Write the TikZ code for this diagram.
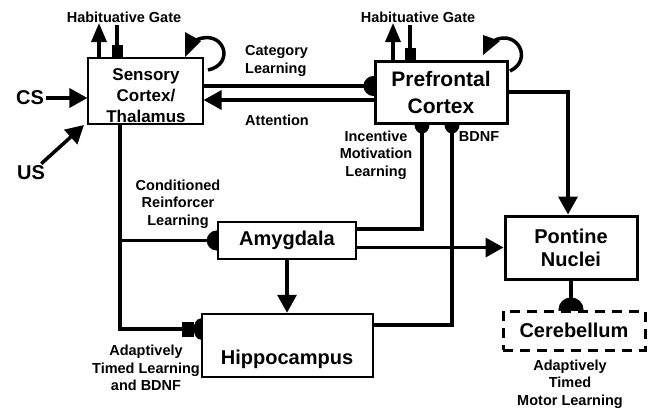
\documentclass[tikz,border=0pt]{standalone}
\usepackage{fontspec}
\setmainfont{Liberation Sans}
\usetikzlibrary{arrows.meta,positioning,calc,backgrounds}

\begin{document}
\begin{tikzpicture}[x=1pt,y=-1pt,
    box/.style={draw, fill=white, line width=2.5pt, inner sep=0pt, align=center,
        font=\fontsize{20}{23}\selectfont\bfseries},
    lbl/.style={align=center, inner sep=0pt, font=\fontsize{14.5}{17.5}\selectfont\bfseries},
    conn/.style={line width=3.5pt},
    arr/.style={conn, -{Triangle[length=18pt,width=19pt]}},
    upArr/.style={conn, -{Triangle[length=19pt,width=15pt]}},
    gate/.style={conn, -{Square[length=12pt,width=11pt]}},
    ball/.style={conn, -{Circle[length=20pt,width=20pt]}, shorten >=-10pt},
    smallBall/.style={conn, -{Circle[length=18pt,width=15pt]}, shorten >=-9pt},
    bigBall/.style={conn, -{Circle[length=24pt,width=25pt]}, shorten >=-12pt},
    hipTip/.style={conn, -{Square[length=12pt,width=15pt,sep=0pt] Circle[length=14pt,width=21pt]}, shorten >=-7pt}]
    \useasboundingbox (0,0) rectangle (650,410);

    % Boxes
    \node[box, line width=1.2pt, minimum width=115pt, minimum height=66pt] (sens) at (145.5,91) {};
    \node[font=\fontsize{17}{21}\selectfont\bfseries, align=center, inner sep=0pt] (sensT) at (146,96) {Sensory\\Cortex/\\Thalamus};
    \node[box, line width=3pt, minimum width=132pt, minimum height=62pt,
        font=\fontsize{21}{27}\selectfont\bfseries] (pre) at (441,92) {Prefrontal\\Cortex};
    \node[box, minimum width=138pt, minimum height=37pt] (amy) at (287,240.5) {Amygdala};
    \node[box, minimum width=171pt, minimum height=63pt] (hip) at (287.5,345.5) {};
    \node[font=\fontsize{20}{23}\selectfont\bfseries, inner sep=0pt] (hipT) at (287,359) {Hippocampus};
    \node[box, line width=3pt, minimum width=132pt, minimum height=63pt] (pont) at (571,247.5) {Pontine\\Nuclei};
    \node[box, line width=3pt, dash pattern=on 10pt off 7pt, minimum width=142pt, minimum height=39pt] (cer) at (574,330.5) {Cerebellum};

    % Inputs
    \node[font=\fontsize{20}{23}\selectfont\bfseries, inner sep=2pt] (cs) at (30,98) {CS};
    \node[font=\fontsize{20}{23}\selectfont\bfseries, inner sep=2pt] (us) at (31,173) {US};
    \coordinate (usEnd) at (84,125);

    % Labels
    \node[lbl] (habS) at (124,17) {Habituative Gate};
    \node[lbl] (habP) at (418,17) {Habituative Gate};
    \node[lbl, align=left, anchor=west] (catL) at (245,61) {Category\\Learning};
    \node[lbl, anchor=west] (attL) at (245,120) {Attention};
    \node[lbl] (incL) at (376,155) {Incentive\\Motivation\\Learning};
    \node[lbl] (bdnfL) at (479,137) {BDNF};
    \node[lbl] (crL) at (178,204) {Conditioned\\Reinforcer\\Learning};
    \node[lbl] (atL) at (146,368) {Adaptively\\Timed Learning\\and BDNF};
    \node[lbl] (amL) at (570,384) {Adaptively\\Timed\\Motor Learning};

    \coordinate (sdown) at ([xshift=-25.5pt]sens.south);
    \coordinate (sUp) at (99,23);
    \coordinate (sGate) at (117,25);
    \coordinate (pUp) at (393,23);
    \coordinate (pGate) at (410,25);

    % Self loops
    \fill (185,32) -- (201,41) -- (185,57) -- cycle;
    \draw[conn] (196,40) .. controls (224,28) and (236,64) .. (208,70);
    \fill (483,35) -- (500,41) -- (483,55) -- cycle;
    \draw[conn] (495,40) .. controls (518,30) and (533,60) .. (510,71);

    \begin{scope}[on background layer]
        \fill[white] (0,0) rectangle (650,410);
        % Inputs
        \draw[arr] (cs) -- (cs -| sens.west);
        \draw[arr] (us) -- (usEnd);
        % Habituative gates
        \draw[upArr] (sUp |- sens.north) -- (sUp);
        \draw[gate] (sGate) -- (sGate |- sens.north);
        \draw[upArr] (pUp |- pre.north) -- (pUp);
        \draw[gate] (pGate) -- (pGate |- pre.north);
        % Cortex links
        \draw[ball] ([yshift=6pt]pre.west -| sens.east) -- ([yshift=6pt]pre.west);
        \draw[arr] ([yshift=-8pt]pre.west) -- ([yshift=-8pt]pre.west -| sens.east);
        % Thalamic outputs
        \draw[hipTip] (sdown) |- ([yshift=16.5pt]hip.west);
        \draw[ball] (amy.west -| sdown) -- (amy.west);
        % Amygdala and hippocampus outputs
        \draw[arr] (amy.south) -- (amy.south |- hip.north);
        \draw[smallBall] ([yshift=11.5pt]amy.east) -| ([xshift=-19pt]pre.south);
        \draw[arr] (amy.east |- pont.west) -- (pont.west);
        \draw[smallBall] ([yshift=20.5pt]hip.east) -| ([xshift=11pt]pre.south);
        % Motor pathway
        \draw[arr] (pre.east) -| ([xshift=-3pt]pont.north);
        \draw[bigBall] (pont.south) -- (pont.south |- cer.north);
    \end{scope}
\end{tikzpicture}
\end{document}
